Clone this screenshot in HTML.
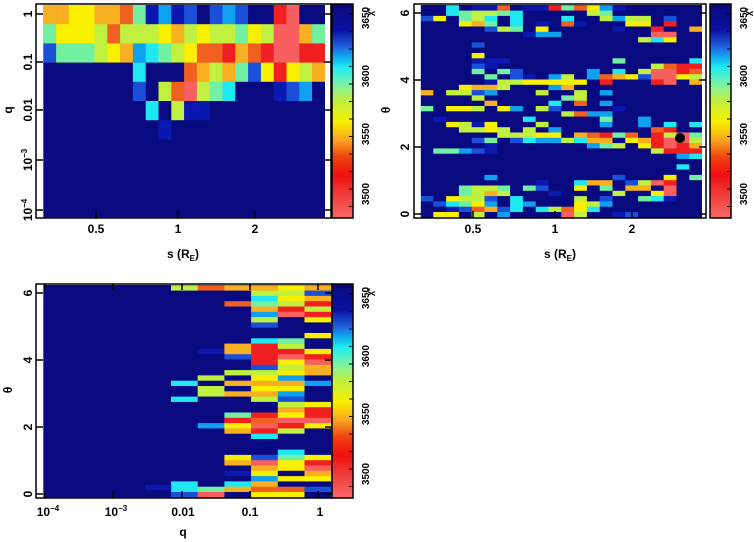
<!DOCTYPE html>
<html><head><meta charset="utf-8">
<style>
html,body{margin:0;padding:0;background:#fff;}
#c{position:relative;width:754px;height:542px;overflow:hidden;font-family:"Liberation Sans",sans-serif;font-weight:bold;}
svg text{font-family:"Liberation Sans",sans-serif;font-weight:bold;fill:#000;}
</style></head><body>
<div id="c"><svg id="s" width="754" height="542" xmlns="http://www.w3.org/2000/svg">
<defs>
<linearGradient id="cb" x1="0" y1="0" x2="0" y2="1">
<stop offset="0" stop-color="#0a0a80"/><stop offset="0.12" stop-color="#0a10a0"/>
<stop offset="0.2" stop-color="#2060e0"/><stop offset="0.25" stop-color="#10b0f0"/>
<stop offset="0.3" stop-color="#20f0f0"/><stop offset="0.38" stop-color="#80f0a0"/>
<stop offset="0.45" stop-color="#c0f040"/><stop offset="0.55" stop-color="#f8f000"/>
<stop offset="0.64" stop-color="#f8a020"/><stop offset="0.72" stop-color="#f04010"/>
<stop offset="0.8" stop-color="#f01010"/><stop offset="0.88" stop-color="#f03838"/>
<stop offset="1" stop-color="#f86868"/>
</linearGradient></defs>
</svg></div>
<script>
var P={n:"#0a0a80",k:"#0a18b0",b:"#1a50d8",l:"#10a0f0",c:"#20e8f0",a:"#70f0a0",g:"#c0f040",y:"#f8f000",o:"#f8b020",d:"#f06020",r:"#f02020",s:"#f86060"};
var S=document.getElementById("s");var h="";
function R(x,y,w,hh,f){h+='<rect x="'+x.toFixed(2)+'" y="'+y.toFixed(2)+'" width="'+(w+0.3).toFixed(2)+'" height="'+(hh+0.3).toFixed(2)+'" fill="'+f+'"/>';}
function grid(x0,y0,cw,rh,rows){for(var j=0;j<rows.length;j++){for(var i=0;i<rows[j].length;i++){R(x0+i*cw,y0+j*rh,cw,rh,P[rows[j][i]]);}}}
R(43,5,282,212,P.n);
grid(43.3,5,12.8,19.2,["ooyyoodaklkbnblbnnrsnn","ayyygdgggyogyggaygssoa","baaagyolcagyddrodrssrr","nnnnnnncnnndogoabyrygo","nnnnnnnbngdsgacnnnkbln","nnnnnnnncngkknnnnnnnnn","nnnnnnnnnknnnnnnnnnnnn"]);
R(420,5,282,212,P.n);
grid(420.5,5.3,12.8,5.3,[
"nncnkkdnkkradylknnnnnn","nncaggacnnnnngannnnnnn","bynagcncnnncnnglggnbnn","nnnyoancnkndknnnyynrnn",
"nnnnnbganynnnnnknnrnno","nnnnnnnnkllnnnnnnnssnn","nnnnnnnnnnnnnnnnngcynn","nnnnbnnnnnnnnnnnnnnnnn",
"nnnnnnnnnnnnnnnnnnnnnn","nnnnynnnnnnnnnnnnnnnnn","nnnnkkknnnnnnnnannnnnc","nnnnbknnnnnnnnnnnngdrr",
"nnnnanabnnnnnlncngssrd","nnnnnanbknlgnldoybssyg","nnnnnkggyyyyynrnnnrsno","nnnyoognnnlonnnnnnnnnn",
"onggblnnngnngnlnnnnnnn","nnnngnnnnnnagnnnnnnnnn","nnnnnonnnncndnlnnnnnnn","anyygnylngbnnnnknnnnnn",
"nnnnnnnnnnngdllnnnnnnn","nknnnnnncnnnnnannlnnnn","nnygkynnngnnnnlnnlncnc","nnnggygngnlnnnnnnndrnn",
"nnnnnngggyynodradnrgsa","nnnnbanbcllgcoonyorssg","nnnnnknnnnnnnlagnyrsro","naalbknnnnnnnnnnnngrrr",
"nnnnnnnnnnnnnnnnnnnnlc","nnnnnnnnnnnnnnnnnnnnnn","nnnnnnnnnnnnnnnnnnnncn","nnnnnnnnnnnnnnnnnnnnnn",
"nnnnnlnnnnnnnnnbnnnyna","nnnnnnnnnknncoonbgsrnn","nnnagganabnnynanoonsnn","nnnagognnnknnnngnnysnn",
"bnyggbncnnnngnbnnacknn","nbcaylnclnnnyglnnnnnnn","nnkbdobcncgdycnnnnnnnn","nyyngnlnnnnsgnnkbnnnnn"]);
h+='<circle cx="680" cy="138" r="5" fill="#000"/>';
R(43,285,288,212,P.n);
grid(171,285.3,26.7,5.3,[
"gdooyo","nnnggb","nnncyo","nndagr","nnnorg","nnnlsr","nnngny","nnnbnn","nnnnnn","nnnnny",
"nnncan","nnorgn","nkorry","nnbrsr","nnnrys","nnnbgo","nnggyo","ngnyln","cnoool","ngnyyn",
"ngooln","cnngbn","nnnngy","nnnnor","nnaryr","nnrdss","nlysry","nnorgn","nnncnn","nnnnnn",
"nnnnnn","nnnncn","nnybay","nnosyr","nnnoys","nnkyno","nnnlyy","cnconn","caoddb","bsnyyn"]);
R(145,485,26,5,P.k);
function frame(x,y,w,hh){h+='<rect x="'+x+'" y="'+y+'" width="'+w+'" height="'+hh+'" fill="none" stroke="#000" stroke-width="1.5"/>';}
function strips(x0,y0,x1,y1,cx0,cx1){R(x0,y0,cx0-x0,y1-y0,"#fff");R(cx1,y0,x1-cx1,y1-y0,"#fff");}
strips(36,4,331,218,43,325);strips(414,4,706,218,420.5,702);strips(36,284,333,498,43,331);
frame(36,4,295,214);frame(414,4,292,214);frame(36,284,296,214);
[[332,4],[710,4],[332,284]].forEach(function(p){
 h+='<rect x="'+p[0]+'" y="'+p[1]+'" width="21" height="214" fill="url(#cb)" stroke="#000" stroke-width="1.5"/>';
 for(var t=0;t<12;t++){var yy=p[1]+10+t*17.5;h+='<line x1="'+(p[0]+17)+'" x2="'+(p[0]+21)+'" y1="'+yy+'" y2="'+yy+'" stroke="#000"/>';}
 var lx=p[0]+37;[["3650",p[1]+14],["3600",p[1]+72],["3550",p[1]+130],["3500",p[1]+190]].forEach(function(L){
  h+='<text transform="translate('+lx+','+L[1]+') rotate(-90)" font-size="10" text-anchor="middle">'+L[0]+'</text>';});
 h+='<text transform="translate('+(p[0]+41)+','+(p[1]+8)+') rotate(-90)" font-size="9" text-anchor="middle">χ²</text>';
});
function tk(x,y,len,dir){ if(dir=="v")h+='<line x1="'+x+'" x2="'+x+'" y1="'+y+'" y2="'+(y+len)+'" stroke="#000" stroke-width="1.5"/>';else h+='<line x1="'+x+'" x2="'+(x+len)+'" y1="'+y+'" y2="'+y+'" stroke="#000" stroke-width="1.5"/>';}
function ylab(x,y,t){h+='<text transform="translate('+x+','+y+') rotate(-90)" font-size="12" text-anchor="middle">'+t+'</text>';}
[[14,"1"],[62,"0.1"],[110,"0.01"],[160,"10<tspan font-size=\"8\" dy=\"-5\">−3</tspan>"],[210,"10<tspan font-size=\"8\" dy=\"-5\">−4</tspan>"]].forEach(function(a){tk(36,a[0],7,"h");tk(324,a[0],7,"h");ylab(32,a[0],a[1]);});
[[13,"6"],[80,"4"],[147,"2"],[214,"0"]].forEach(function(a){tk(414,a[0],7,"h");tk(699,a[0],7,"h");ylab(409,a[0],a[1]);tk(36,a[0]+280,7,"h");tk(325,a[0]+280,7,"h");ylab(32,a[0]+280,a[1]);});
ylab(12,110,"q");ylab(390,110,"θ");ylab(12,390,"θ");
function xl(x,y,t,fs){h+='<text x="'+x+'" y="'+y+'" font-size="'+(fs||12)+'" text-anchor="middle">'+t+'</text>';}
[[96,"0.5"],[178,"1"],[255,"2"]].forEach(function(a){xl(a[0],233,a[1]);xl(a[0]+377,233,a[1]);tk(a[0],211,7,"v");tk(a[0]+377,211,7,"v");});
xl(183,258,"s (R<tspan font-size=\"8\" dy=\"3\">E</tspan><tspan dy=\"-3\">)</tspan>");xl(560,258,"s (R<tspan font-size=\"8\" dy=\"3\">E</tspan><tspan dy=\"-3\">)</tspan>");
[[48,"10<tspan font-size=\"8\" dy=\"-5\">−4</tspan>"],[116,"10<tspan font-size=\"8\" dy=\"-5\">−3</tspan>"],[183,"0.01"],[250,"0.1"],[320,"1"]].forEach(function(a){xl(a[0],516,a[1]);});
[45,113,182,250,318].forEach(function(x){tk(x,491,7,"v");tk(x,284,6,"v");});
xl(183,536,"q");
S.innerHTML+=h;
</script>
</body></html>
